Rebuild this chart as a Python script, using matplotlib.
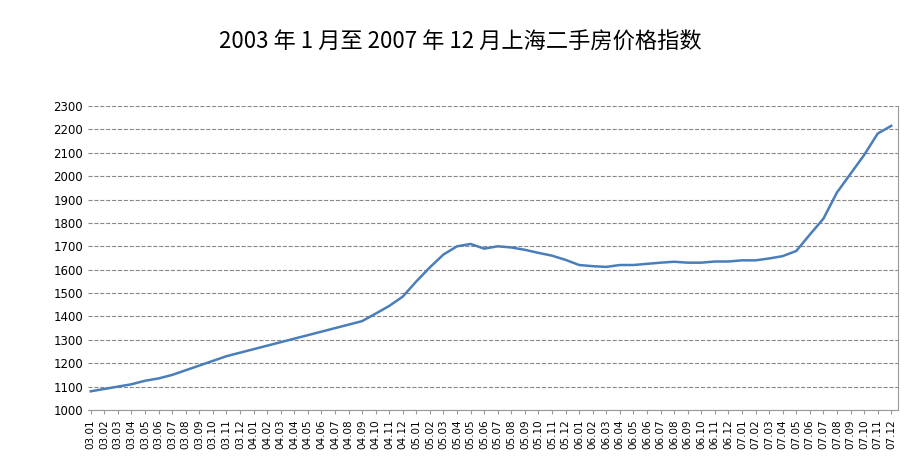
import matplotlib
matplotlib.use("Agg")
import matplotlib.pyplot as plt

labels = [f"{y:02d}.{m:02d}" for y in range(3, 8) for m in range(1, 13)]
values = [1080,1090,1100,1110,1125,1135,1150,1170,1190,1210,1230,1245,
          1260,1275,1290,1305,1320,1335,1350,1365,1380,1412,1445,1485,
          1550,1610,1665,1700,1710,1690,1700,1695,1685,1672,1660,1642,
          1620,1615,1612,1620,1620,1625,1630,1634,1630,1630,1635,1635,
          1640,1640,1648,1658,1680,1750,1818,1930,2010,2090,2182,2215]

plt.rcParams["font.family"] = ["Noto Sans CJK SC", "DejaVu Sans"]
fig = plt.figure(figsize=(9.21, 4.75), dpi=100)
ax = fig.add_axes([88/921, 1-410/475, (898-88)/921, (410-106)/475])
x = list(range(len(labels)))
ax.plot(x, values, color="#4a7ebb", lw=1.8)
ax.set_xlim(-0.2, 59.5)
ax.set_ylim(1000, 2300)
ax.set_yticks(range(1000, 2301, 100))
ax.set_xticks(x)
ax.set_xticklabels(labels, rotation=90, fontsize=7.5, family="DejaVu Sans")
ax.tick_params(axis="y", labelsize=8.5, length=0)
ax.tick_params(axis="x", length=3, color="#999999")
ax.grid(axis="y", ls="--", color="#888888", lw=0.8)
for s in ["top", "left"]:
    ax.spines[s].set_visible(False)
ax.spines["bottom"].set_color("#999999")
ax.spines["right"].set_color("#999999")
for t in ax.get_yticklabels():
    t.set_family("DejaVu Sans")
fig.text(0.5, 1-42/475, "2003 年 1 月至 2007 年 12 月上海二手房价格指数", ha="center", va="center", fontsize=16)
fig.savefig("out.png", dpi=100)
